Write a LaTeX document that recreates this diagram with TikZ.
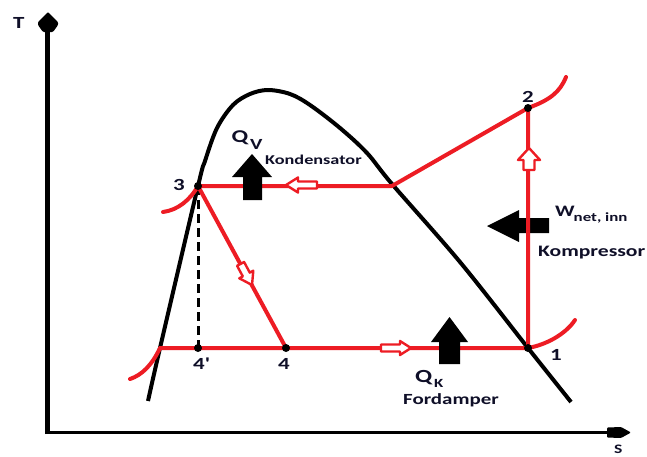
\documentclass[tikz,border=0pt]{standalone}
\usepackage{fontspec}
\newfontfamily\lab[FakeStretch=1.35]{Carlito}
\definecolor{pred}{RGB}{237,28,36}
\definecolor{ink}{RGB}{15,15,40}
\begin{document}
\begin{tikzpicture}[x=1pt,y=-1pt,
  redl/.style={draw=pred,line width=4pt,line join=round},
  dome/.style={draw=black,line width=4pt},
  hollow/.style={draw=pred,fill=white,line width=2.4pt,line join=round},
  fat/.style={fill=black},
  lbl/.style={inner sep=0pt,text=ink,anchor=base west},
  fs/.style={font=\lab\bfseries\fontsize{#1}{#1}\selectfont}]
\clip (0,0) rectangle (647,456);
\fill[white] (0,0) rectangle (647,456);
% axes
\draw[line width=5pt] (47.5,434) -- (47.5,28);
\fill[rounded corners=1pt] (48,12) -- (58,22) -- (58,25) -- (53,32) -- (43,32) -- (38,25) -- (38,22) -- cycle;
\draw[line width=3.5pt] (45.5,432.5) -- (610,432.5);
\fill[rounded corners=1pt] (607,427.5) -- (621,427) -- (631,432.5) -- (621,438) -- (607,437.5) -- cycle;
\node[lbl,fs=13] (T) at (13,28) {\fontsize{17}{17}\selectfont T};
\node[lbl,fs=13] (S) at (614,453.5) {S};
% dome
\draw[dome] plot[smooth,tension=0.55] coordinates {(148,401) (160,348) (198,186) (205,161) (217,128) (233,105) (250,94) (268,90) (290,94) (310,105) (340,128) (367,153) (392,184) (460,262) (528,348) (571,402)};
% points
\coordinate (p1) at (528,348);
\coordinate (p2) at (528,108);
\coordinate (p3) at (198,186);
\coordinate (p4) at (286,348);
\coordinate (p4p) at (198,348);
\coordinate (sv) at (392,186);
\coordinate (sl) at (160,348);
\coordinate (e2) at (566,77);
\coordinate (e1) at (575,320);
\coordinate (e3) at (163,212);
\coordinate (el) at (130,379);
% work arrow (under red line)
\fill[fat] (549,218) -- (519,218) -- (519,210) -- (487,226) -- (519,242) -- (519,233) -- (549,233) -- cycle;
% dashed
\draw[line width=3pt,dash pattern=on 9pt off 5pt] (p3) -- (p4p);
% red cycle
\draw[redl] (p3) -- (sv) -- (p2) -- (p1) -- (sl);
\draw[redl] (p3) -- (p4);
\draw[redl,line cap=round] (p2) .. controls (550,100) and (560,92) .. (e2);
\draw[redl,line cap=round] (p1) .. controls (545,345) and (565,335) .. (e1);
\draw[redl,line cap=round] (p3) .. controls (190,200) and (178,210) .. (e3);
\draw[redl,line cap=round] (sl) .. controls (152,365) and (142,375) .. (el);
% hollow arrows
\draw[hollow] (286,185) -- (298,177.5) -- (298,181.5) -- (317,181.5) -- (317,188.5) -- (298,188.5) -- (298,192.5) -- cycle;
\draw[hollow] (529,148) -- (540,160) -- (534.5,160) -- (534.5,170) -- (523.5,170) -- (523.5,160) -- (518,160) -- cycle;
\draw[hollow] (411,348) -- (400,341) -- (400,344.5) -- (381,344.5) -- (381,351.5) -- (400,351.5) -- (400,355) -- cycle;
\draw[hollow] (252,285) -- (253.3,270.7) -- (249.8,272.6) -- (244.1,262.0) -- (237.1,265.8) -- (242.8,276.4) -- (239.3,278.3) -- cycle;
% dots
\foreach \p in {p1,p2,p3,p4,p4p} \fill (\p) circle (4pt);
% heat arrows
\fill[fat] (243,200) -- (243,177) -- (232,177) -- (252,154) -- (272,177) -- (262,177) -- (262,200) -- cycle;
\fill[fat] (439,364) -- (439,342) -- (431,342) -- (449.5,317) -- (468,342) -- (460,342) -- (460,364) -- cycle;
% labels
\node[lbl,fs=17] (l2) at (522,102) {2};
\node[lbl,fs=17] (l3) at (173,190) {3};
\node[lbl,fs=17] (l1) at (550,360) {1};
\node[lbl,fs=17] (l4p) at (193,369) {4'};
\node[lbl,fs=17] (l4) at (278,369) {4};
\node[lbl,fs=18] (qv) at (231.5,142) {Q};
\node[lbl,fs=15.5] (qvs) at (250,149.5) {V};
\node[lbl,fs=13.5] (kond) at (265,164.5) {Kondensator};
\node[lbl,fs=18.5] (qk) at (415,382) {Q};
\node[lbl,fs=12.5] (qks) at (434,387.5) {K};
\node[lbl,fs=15.5] (fd) at (403,404.5) {Fordamper};
\node[lbl,fs=16] (w) at (555,216.5) {W};
\node[lbl,fs=12.5] (ws) at (573.5,221.5) {net, inn};
\node[lbl,fs=16] (komp) at (538,256.5) {Kompressor};
\end{tikzpicture}
\end{document}
